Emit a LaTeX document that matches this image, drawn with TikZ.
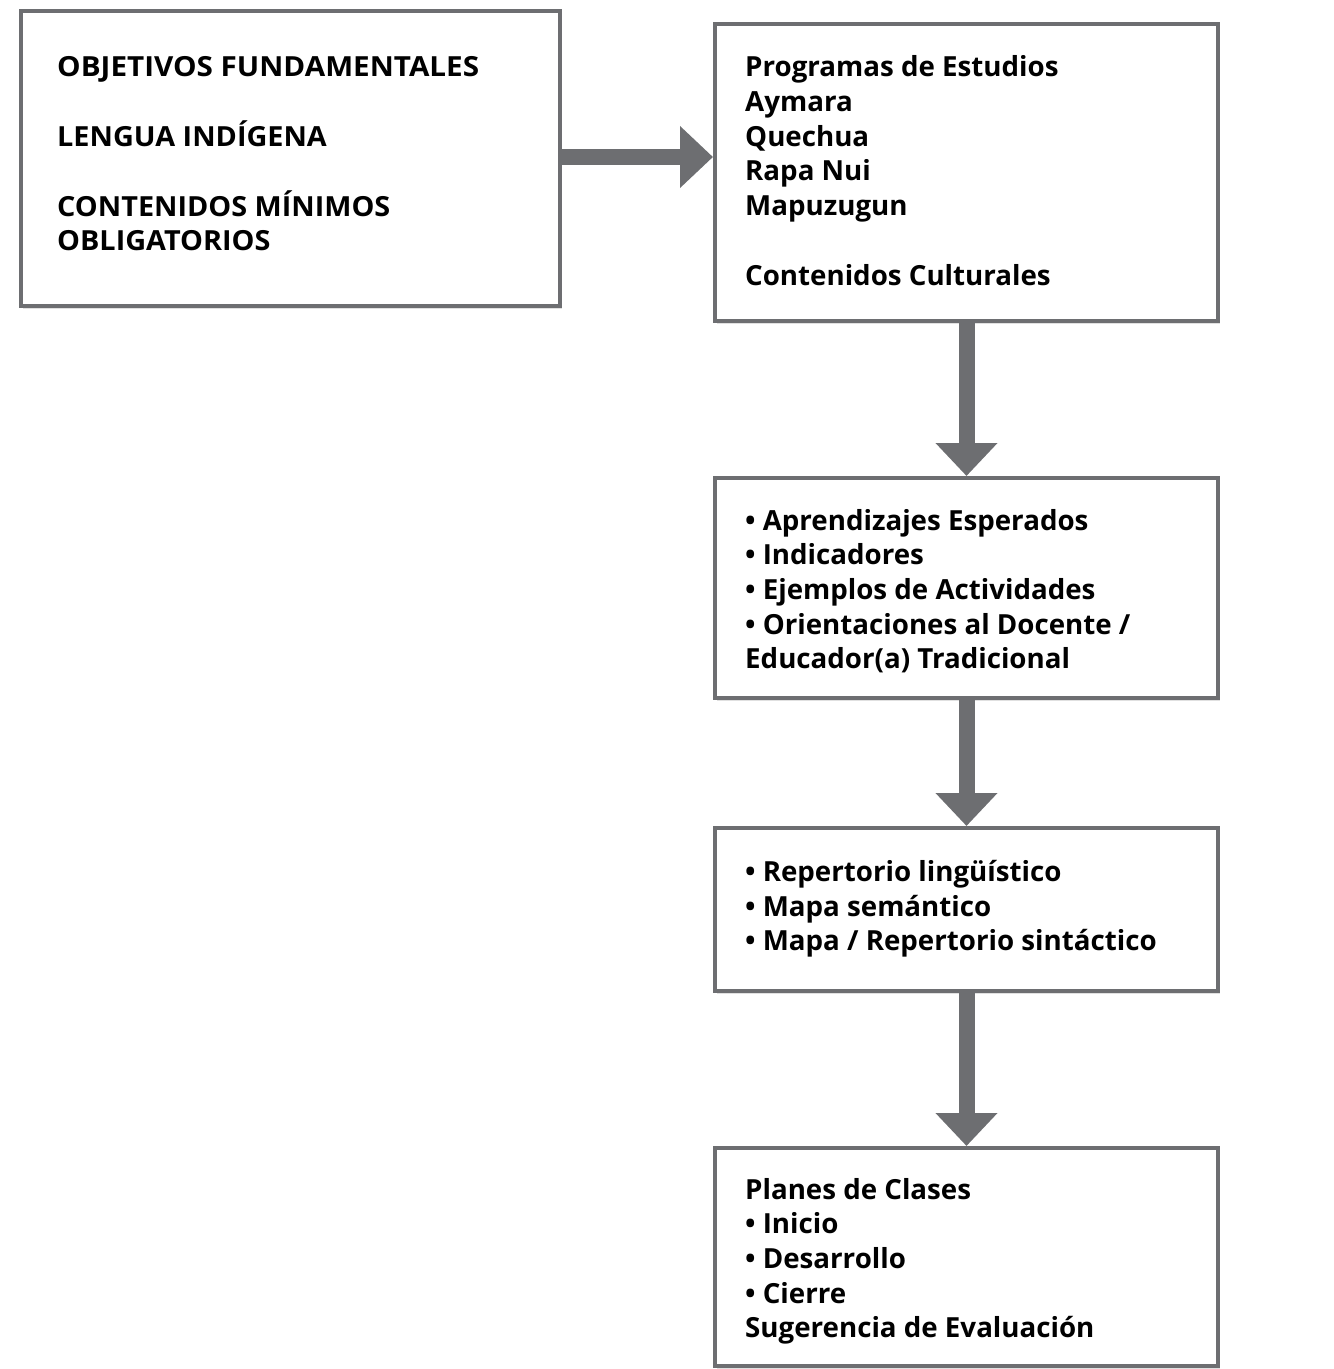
\documentclass[tikz,border=0pt]{standalone}
\usepackage{fontspec}
\setmainfont{Open Sans}
\usetikzlibrary{arrows.meta,shadows}
\definecolor{boxgray}{HTML}{6D6E71}
\newcommand{\capsw}[2]{\scalebox{#1}[1]{#2}}
\begin{document}
\begin{tikzpicture}[x=1pt,y=-1pt,
  box/.style={draw=boxgray, line width=4pt, fill=white, inner sep=0pt,
    drop shadow={shadow xshift=2pt, shadow yshift=-3pt, opacity=0.12, fill=black}},
  txt/.style={anchor=base west, inner sep=0pt, align=left,
    font=\fontsize{27.7}{34.7}\selectfont\bfseries},
  bigarrow/.style={draw=boxgray, line width=16pt,
    -{Triangle[length=33pt 0 0, width=60pt 0 0]}}]
\useasboundingbox (0,0) rectangle (1334,1369);
% boxes
\node[box, minimum width=539pt, minimum height=295pt] (b1) at (290.5,158.5) {};
\node[box, minimum width=503pt, minimum height=297pt] (b2) at (966.5,172.5) {};
\node[box, minimum width=503pt, minimum height=220pt] (b3) at (966.5,588) {};
\node[box, minimum width=503pt, minimum height=163pt] (b4) at (966.5,909.5) {};
\node[box, minimum width=503pt, minimum height=218pt] (b5) at (966.5,1257) {};
% texts
\node[txt] (t1) at (57,76) {\capsw{1.07}{OBJETIVOS FUNDAMENTALES}};
\node[txt] (t1b) at (57,146) {\capsw{1.04}{LENGUA INDÍGENA}};
\node[txt] (t1c) at (57,216) {\capsw{1.04}{CONTENIDOS MÍNIMOS}};
\node[txt] (t1d) at (57,250) {\capsw{1.04}{OBLIGATORIOS}};
\node[txt] (t2) at (745,76) {Programas de Estudios};
\node[txt] (t2b) at (745,111) {Aymara};
\node[txt] (t2c) at (745,146) {Quechua};
\node[txt] (t2d) at (745,180) {Rapa Nui};
\node[txt] (t2e) at (745,215) {Mapuzugun};
\node[txt] (t2f) at (745,285) {Contenidos Culturales};
\node[txt] (t3) at (745,530) {• Aprendizajes Esperados};
\node[txt] (t3b) at (745,564) {• Indicadores};
\node[txt] (t3c) at (745,599) {• Ejemplos de Actividades};
\node[txt] (t3d) at (745,634) {• Orientaciones al Docente /};
\node[txt] (t3e) at (745,668) {Educador(a) Tradicional};
\node[txt] (t4) at (745,881) {• Repertorio lingüístico};
\node[txt] (t4b) at (745,916) {• Mapa semántico};
\node[txt] (t4c) at (745,950) {• Mapa / Repertorio sintáctico};
\node[txt] (t5) at (745,1199) {Planes de Clases};
\node[txt] (t5b) at (745,1233) {• Inicio};
\node[txt] (t5c) at (745,1268) {• Desarrollo};
\node[txt] (t5d) at (745,1303) {• Cierre};
\node[txt] (t5e) at (745,1337) {Sugerencia de Evaluación};
% arrows
\draw[bigarrow] (b1.east |- 0,157) -- (b2.west |- 0,157);
\draw[bigarrow] (b2.south) -- (b3.north);
\draw[bigarrow] (b3.south) -- (b4.north);
\draw[bigarrow] (b4.south) -- (b5.north);
\end{tikzpicture}
\end{document}
